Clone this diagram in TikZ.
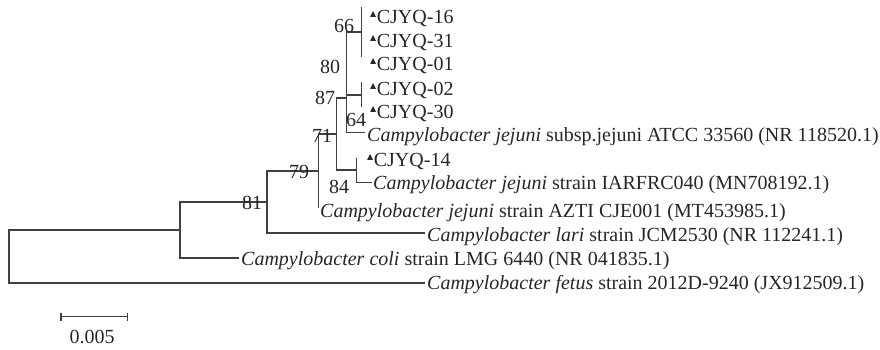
\documentclass[tikz,border=0pt]{standalone}
\usepackage{fontspec}
\setmainfont{Liberation Serif}
\newfontfamily\symfont{DejaVu Sans}
\usetikzlibrary{positioning}

% small marker in front of the isolates
\newcommand{\tri}{{\symfont\fontsize{8}{8}\selectfont\raisebox{6.5pt}[0pt][0pt]{▲}}\kern0.5pt}

\begin{document}
\begin{tikzpicture}[x=1pt,y=-1pt,
	every node/.style={font=\fontsize{20}{24}\selectfont, text=black!85, inner sep=0pt},
	branch/.style={line width=1.4pt, black!75},
	leaf/.style={anchor=west},
	boot/.style={anchor=center}]
	\useasboundingbox (0,0) rectangle (880,349);
	% internal nodes
	\coordinate (root) at (9,256.5);
	\coordinate (nB) at (180,230);
	\coordinate (n81) at (267,201.9);
	\coordinate (n79) at (318.5,171);
	\coordinate (n71) at (336.7,134.1);
	\coordinate (n84) at (356.7,170.15);
	\coordinate (n87) at (346.7,98);
	\coordinate (n80) at (346.7,63.5);
	\coordinate (n66) at (361.7,32.1);
	\coordinate (n64) at (361.7,94.85);
	% branch tips
	\coordinate (l16) at (361.7,7);
	\coordinate (l01) at (361.7,57.2);
	\coordinate (l02) at (361.7,82.3);
	\coordinate (l30) at (361.7,107.4);
	\coordinate (latcc) at (365,132.5);
	\coordinate (l14) at (356.7,157.6);
	\coordinate (liar) at (371.7,182.7);
	\coordinate (lazti) at (318.5,207.8);
	\coordinate (llari) at (425,232.9);
	\coordinate (lcoli) at (239,258);
	\coordinate (lfetus) at (425,283.1);
	% branches
	\draw[branch] (nB) -| (root) |- (lfetus);
	\draw[branch] (n81) -| (nB) |- (lcoli);
	\draw[branch] (n79) -| (n81) |- (llari);
	\draw[branch] (n71) -| (n79) |- (lazti);
	\draw[branch] (n87) -| (n71) |- (n84);
	\draw[branch] (l14) -| (n84) |- (liar);
	\draw[branch] (n80) -| (n87) |- (latcc);
	\draw[branch] (n66) -| (n80) |- (n64);
	\draw[branch] (l16) -| (n66) |- (l01);
	\draw[branch] (l02) -| (n64) |- (l30);
	% taxa
	\node[leaf] (t16) at (370,18) {\tri CJYQ-16};
	\node[leaf] (t31) at (370,42) {\tri CJYQ-31};
	\node[leaf] (t01) at (370,65) {\tri CJYQ-01};
	\node[leaf] (t02) at (370,90) {\tri CJYQ-02};
	\node[leaf] (t30) at (370,113) {\tri CJYQ-30};
	\node[leaf] (tatcc) at (367,137) {\textit{Campylobacter jejuni} subsp.jejuni ATCC 33560 (NR 118520.1)};
	\node[leaf] (t14) at (367,161) {\tri CJYQ-14};
	\node[leaf] (tiar) at (373,185) {\textit{Campylobacter jejuni} strain IARFRC040 (MN708192.1)};
	\node[leaf] (tazti) at (320,213) {\textit{Campylobacter jejuni} strain AZTI CJE001 (MT453985.1)};
	\node[leaf] (tlari) at (427,237) {\textit{Campylobacter lari} strain JCM2530 (NR 112241.1)};
	\node[leaf] (tcoli) at (241,261) {\textit{Campylobacter coli} strain LMG 6440 (NR 041835.1)};
	\node[leaf] (tfetus) at (427,285) {\textit{Campylobacter fetus} strain 2012D-9240 (JX912509.1)};
	% bootstrap values
	\node[boot] (b66) at (344,26) {66};
	\node[boot] (b80) at (330,67) {80};
	\node[boot] (b87) at (325,98) {87};
	\node[boot] (b64) at (356,120) {64};
	\node[boot] (b71) at (322,136) {71};
	\node[boot] (b84) at (339,187) {84};
	\node[boot] (b79) at (299,172) {79};
	\node[boot] (b81) at (252,203) {81};
	% scale bar
	\coordinate (s0) at (61,316.7);
	\coordinate (s1) at (127.7,316.7);
	\draw[branch] (s0) -- (s1);
	\draw[branch] ([yshift=-4pt]s0) -- ([yshift=4pt]s0);
	\draw[branch] ([yshift=-4pt]s1) -- ([yshift=4pt]s1);
	\node (scale) at (92,337) {0.005};
\end{tikzpicture}
\end{document}
